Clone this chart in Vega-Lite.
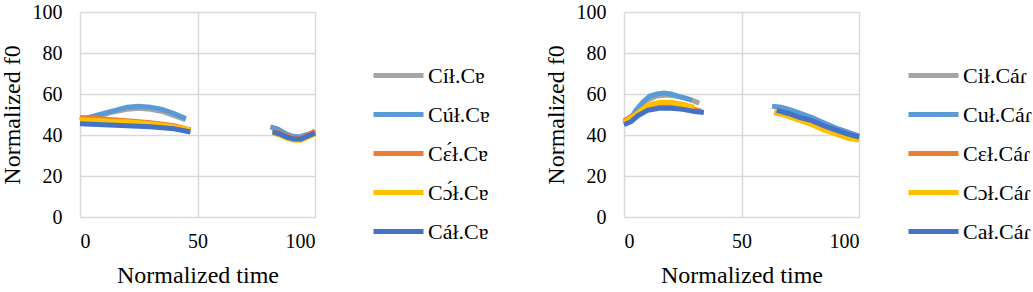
{
  "$schema": "https://vega.github.io/schema/vega-lite/v6.json",
  "padding": {"left": 0, "top": 2, "right": 0, "bottom": 0},
  "background": "white",
  "spacing": 54,
  "config": {
    "view": {"stroke": null},
    "font": "Liberation Serif",
    "axis": {
      "labelFont": "Liberation Serif", "labelFontSize": 20, "labelColor": "#000000",
      "titleFont": "Liberation Serif", "titleFontSize": 24, "titleFontWeight": "normal", "titleColor": "#000000",
      "domain": false, "ticks": false, "gridColor": "#d9d9d9", "gridWidth": 1.5
    },
    "legend": {
      "labelFont": "Liberation Serif", "labelFontSize": 22, "labelColor": "#000000", "labelLimit": 200,
      "symbolType": "stroke", "symbolSize": 2500, "symbolStrokeWidth": 5, "rowPadding": -13,
      "labelOffset": 2, "title": null, "orient": "none", "legendY": 36
    }
  },
  "datasets": {
    "left": [
      {"s": "Cíł.Cɐ", "g": 1, "t": 0, "v": 47}, {"s": "Cíł.Cɐ", "g": 1, "t": 5, "v": 48.5}, {"s": "Cíł.Cɐ", "g": 1, "t": 10, "v": 50}, {"s": "Cíł.Cɐ", "g": 1, "t": 15, "v": 51.5}, {"s": "Cíł.Cɐ", "g": 1, "t": 20, "v": 52.5}, {"s": "Cíł.Cɐ", "g": 1, "t": 25, "v": 53}, {"s": "Cíł.Cɐ", "g": 1, "t": 30, "v": 52.5}, {"s": "Cíł.Cɐ", "g": 1, "t": 35, "v": 51.5}, {"s": "Cíł.Cɐ", "g": 1, "t": 40, "v": 49.5}, {"s": "Cíł.Cɐ", "g": 1, "t": 45, "v": 47.5},
      {"s": "Cíł.Cɐ", "g": 2, "t": 82, "v": 43}, {"s": "Cíł.Cɐ", "g": 2, "t": 85, "v": 41.5}, {"s": "Cíł.Cɐ", "g": 2, "t": 88, "v": 40}, {"s": "Cíł.Cɐ", "g": 2, "t": 91, "v": 39}, {"s": "Cíł.Cɐ", "g": 2, "t": 94, "v": 39}, {"s": "Cíł.Cɐ", "g": 2, "t": 97, "v": 40}, {"s": "Cíł.Cɐ", "g": 2, "t": 100, "v": 41},
      {"s": "Cúł.Cɐ", "g": 1, "t": 0, "v": 47.5}, {"s": "Cúł.Cɐ", "g": 1, "t": 5, "v": 49}, {"s": "Cúł.Cɐ", "g": 1, "t": 10, "v": 50.5}, {"s": "Cúł.Cɐ", "g": 1, "t": 15, "v": 52}, {"s": "Cúł.Cɐ", "g": 1, "t": 20, "v": 53.5}, {"s": "Cúł.Cɐ", "g": 1, "t": 25, "v": 54}, {"s": "Cúł.Cɐ", "g": 1, "t": 30, "v": 53.5}, {"s": "Cúł.Cɐ", "g": 1, "t": 35, "v": 52.5}, {"s": "Cúł.Cɐ", "g": 1, "t": 40, "v": 50.5}, {"s": "Cúł.Cɐ", "g": 1, "t": 45, "v": 48},
      {"s": "Cúł.Cɐ", "g": 2, "t": 81, "v": 44}, {"s": "Cúł.Cɐ", "g": 2, "t": 84, "v": 43}, {"s": "Cúł.Cɐ", "g": 2, "t": 87, "v": 41}, {"s": "Cúł.Cɐ", "g": 2, "t": 90, "v": 39.5}, {"s": "Cúł.Cɐ", "g": 2, "t": 93, "v": 39}, {"s": "Cúł.Cɐ", "g": 2, "t": 96, "v": 40}, {"s": "Cúł.Cɐ", "g": 2, "t": 100, "v": 41},
      {"s": "Cɛ́ł.Cɐ", "g": 1, "t": 0, "v": 48.5}, {"s": "Cɛ́ł.Cɐ", "g": 1, "t": 10, "v": 47.8}, {"s": "Cɛ́ł.Cɐ", "g": 1, "t": 20, "v": 47}, {"s": "Cɛ́ł.Cɐ", "g": 1, "t": 30, "v": 46}, {"s": "Cɛ́ł.Cɐ", "g": 1, "t": 40, "v": 44.5}, {"s": "Cɛ́ł.Cɐ", "g": 1, "t": 47, "v": 42.5},
      {"s": "Cɛ́ł.Cɐ", "g": 2, "t": 82, "v": 42}, {"s": "Cɛ́ł.Cɐ", "g": 2, "t": 85, "v": 41}, {"s": "Cɛ́ł.Cɐ", "g": 2, "t": 88, "v": 39.5}, {"s": "Cɛ́ł.Cɐ", "g": 2, "t": 91, "v": 38.5}, {"s": "Cɛ́ł.Cɐ", "g": 2, "t": 94, "v": 38.5}, {"s": "Cɛ́ł.Cɐ", "g": 2, "t": 97, "v": 40}, {"s": "Cɛ́ł.Cɐ", "g": 2, "t": 100, "v": 42},
      {"s": "Cɔ́ł.Cɐ", "g": 1, "t": 0, "v": 47.5}, {"s": "Cɔ́ł.Cɐ", "g": 1, "t": 10, "v": 47}, {"s": "Cɔ́ł.Cɐ", "g": 1, "t": 20, "v": 46.5}, {"s": "Cɔ́ł.Cɐ", "g": 1, "t": 30, "v": 45.5}, {"s": "Cɔ́ł.Cɐ", "g": 1, "t": 40, "v": 44}, {"s": "Cɔ́ł.Cɐ", "g": 1, "t": 47, "v": 42.5},
      {"s": "Cɔ́ł.Cɐ", "g": 2, "t": 82, "v": 41}, {"s": "Cɔ́ł.Cɐ", "g": 2, "t": 85, "v": 40}, {"s": "Cɔ́ł.Cɐ", "g": 2, "t": 88, "v": 38.5}, {"s": "Cɔ́ł.Cɐ", "g": 2, "t": 91, "v": 37.5}, {"s": "Cɔ́ł.Cɐ", "g": 2, "t": 94, "v": 37.5}, {"s": "Cɔ́ł.Cɐ", "g": 2, "t": 97, "v": 39}, {"s": "Cɔ́ł.Cɐ", "g": 2, "t": 100, "v": 40.5},
      {"s": "Cáł.Cɐ", "g": 1, "t": 0, "v": 45.5}, {"s": "Cáł.Cɐ", "g": 1, "t": 10, "v": 45}, {"s": "Cáł.Cɐ", "g": 1, "t": 20, "v": 44.5}, {"s": "Cáł.Cɐ", "g": 1, "t": 30, "v": 44}, {"s": "Cáł.Cɐ", "g": 1, "t": 40, "v": 43}, {"s": "Cáł.Cɐ", "g": 1, "t": 47, "v": 41.5},
      {"s": "Cáł.Cɐ", "g": 2, "t": 82, "v": 41.5}, {"s": "Cáł.Cɐ", "g": 2, "t": 85, "v": 40.5}, {"s": "Cáł.Cɐ", "g": 2, "t": 88, "v": 39}, {"s": "Cáł.Cɐ", "g": 2, "t": 91, "v": 38}, {"s": "Cáł.Cɐ", "g": 2, "t": 94, "v": 38}, {"s": "Cáł.Cɐ", "g": 2, "t": 97, "v": 39.5}, {"s": "Cáł.Cɐ", "g": 2, "t": 100, "v": 41}
    ],
    "right": [
      {"s": "Cił.Cáɾ", "g": 1, "t": 0, "v": 46}, {"s": "Cił.Cáɾ", "g": 1, "t": 5, "v": 51}, {"s": "Cił.Cáɾ", "g": 1, "t": 10, "v": 57}, {"s": "Cił.Cáɾ", "g": 1, "t": 14, "v": 59}, {"s": "Cił.Cáɾ", "g": 1, "t": 18, "v": 59.5}, {"s": "Cił.Cáɾ", "g": 1, "t": 22, "v": 59}, {"s": "Cił.Cáɾ", "g": 1, "t": 26, "v": 58}, {"s": "Cił.Cáɾ", "g": 1, "t": 30, "v": 56.5}, {"s": "Cił.Cáɾ", "g": 1, "t": 32, "v": 55.5},
      {"s": "Cił.Cáɾ", "g": 2, "t": 65, "v": 53.5}, {"s": "Cił.Cáɾ", "g": 2, "t": 70, "v": 52.5}, {"s": "Cił.Cáɾ", "g": 2, "t": 75, "v": 50.5}, {"s": "Cił.Cáɾ", "g": 2, "t": 80, "v": 48}, {"s": "Cił.Cáɾ", "g": 2, "t": 85, "v": 45.5}, {"s": "Cił.Cáɾ", "g": 2, "t": 90, "v": 43}, {"s": "Cił.Cáɾ", "g": 2, "t": 95, "v": 41}, {"s": "Cił.Cáɾ", "g": 2, "t": 100, "v": 39.5},
      {"s": "Cuł.Cáɾ", "g": 1, "t": 0, "v": 46}, {"s": "Cuł.Cáɾ", "g": 1, "t": 3, "v": 48}, {"s": "Cuł.Cáɾ", "g": 1, "t": 5, "v": 52}, {"s": "Cuł.Cáɾ", "g": 1, "t": 8, "v": 56}, {"s": "Cuł.Cáɾ", "g": 1, "t": 11, "v": 59}, {"s": "Cuł.Cáɾ", "g": 1, "t": 14, "v": 60}, {"s": "Cuł.Cáɾ", "g": 1, "t": 17, "v": 60.5}, {"s": "Cuł.Cáɾ", "g": 1, "t": 20, "v": 60}, {"s": "Cuł.Cáɾ", "g": 1, "t": 23, "v": 59}, {"s": "Cuł.Cáɾ", "g": 1, "t": 26, "v": 58}, {"s": "Cuł.Cáɾ", "g": 1, "t": 29, "v": 57},
      {"s": "Cuł.Cáɾ", "g": 2, "t": 63, "v": 54}, {"s": "Cuł.Cáɾ", "g": 2, "t": 67, "v": 53.5}, {"s": "Cuł.Cáɾ", "g": 2, "t": 70, "v": 52.5}, {"s": "Cuł.Cáɾ", "g": 2, "t": 75, "v": 50.5}, {"s": "Cuł.Cáɾ", "g": 2, "t": 80, "v": 48.5}, {"s": "Cuł.Cáɾ", "g": 2, "t": 85, "v": 46}, {"s": "Cuł.Cáɾ", "g": 2, "t": 90, "v": 43.5}, {"s": "Cuł.Cáɾ", "g": 2, "t": 95, "v": 41.5}, {"s": "Cuł.Cáɾ", "g": 2, "t": 100, "v": 39.5},
      {"s": "Cɛł.Cáɾ", "g": 1, "t": 0, "v": 47}, {"s": "Cɛł.Cáɾ", "g": 1, "t": 5, "v": 50}, {"s": "Cɛł.Cáɾ", "g": 1, "t": 10, "v": 53.5}, {"s": "Cɛł.Cáɾ", "g": 1, "t": 15, "v": 54.5}, {"s": "Cɛł.Cáɾ", "g": 1, "t": 20, "v": 54.5}, {"s": "Cɛł.Cáɾ", "g": 1, "t": 25, "v": 53.5}, {"s": "Cɛł.Cáɾ", "g": 1, "t": 30, "v": 52.5}, {"s": "Cɛł.Cáɾ", "g": 1, "t": 33, "v": 51.5},
      {"s": "Cɛł.Cáɾ", "g": 2, "t": 64, "v": 51}, {"s": "Cɛł.Cáɾ", "g": 2, "t": 70, "v": 49.5}, {"s": "Cɛł.Cáɾ", "g": 2, "t": 75, "v": 47.5}, {"s": "Cɛł.Cáɾ", "g": 2, "t": 80, "v": 45.5}, {"s": "Cɛł.Cáɾ", "g": 2, "t": 85, "v": 43}, {"s": "Cɛł.Cáɾ", "g": 2, "t": 90, "v": 41}, {"s": "Cɛł.Cáɾ", "g": 2, "t": 95, "v": 39}, {"s": "Cɛł.Cáɾ", "g": 2, "t": 100, "v": 38},
      {"s": "Cɔł.Cáɾ", "g": 1, "t": 0, "v": 46}, {"s": "Cɔł.Cáɾ", "g": 1, "t": 5, "v": 50}, {"s": "Cɔł.Cáɾ", "g": 1, "t": 10, "v": 54.5}, {"s": "Cɔł.Cáɾ", "g": 1, "t": 15, "v": 56}, {"s": "Cɔł.Cáɾ", "g": 1, "t": 20, "v": 56}, {"s": "Cɔł.Cáɾ", "g": 1, "t": 25, "v": 55}, {"s": "Cɔł.Cáɾ", "g": 1, "t": 30, "v": 53.5},
      {"s": "Cɔł.Cáɾ", "g": 2, "t": 64, "v": 51.5}, {"s": "Cɔł.Cáɾ", "g": 2, "t": 70, "v": 49}, {"s": "Cɔł.Cáɾ", "g": 2, "t": 75, "v": 47}, {"s": "Cɔł.Cáɾ", "g": 2, "t": 80, "v": 45}, {"s": "Cɔł.Cáɾ", "g": 2, "t": 85, "v": 42.5}, {"s": "Cɔł.Cáɾ", "g": 2, "t": 90, "v": 40.5}, {"s": "Cɔł.Cáɾ", "g": 2, "t": 95, "v": 38.5}, {"s": "Cɔł.Cáɾ", "g": 2, "t": 100, "v": 37.5},
      {"s": "Cał.Cáɾ", "g": 1, "t": 0, "v": 45}, {"s": "Cał.Cáɾ", "g": 1, "t": 3, "v": 46.5}, {"s": "Cał.Cáɾ", "g": 1, "t": 6, "v": 49.5}, {"s": "Cał.Cáɾ", "g": 1, "t": 10, "v": 52}, {"s": "Cał.Cáɾ", "g": 1, "t": 15, "v": 53}, {"s": "Cał.Cáɾ", "g": 1, "t": 20, "v": 53}, {"s": "Cał.Cáɾ", "g": 1, "t": 25, "v": 52.5}, {"s": "Cał.Cáɾ", "g": 1, "t": 30, "v": 51.5}, {"s": "Cał.Cáɾ", "g": 1, "t": 34, "v": 51},
      {"s": "Cał.Cáɾ", "g": 2, "t": 65, "v": 52}, {"s": "Cał.Cáɾ", "g": 2, "t": 70, "v": 50.5}, {"s": "Cał.Cáɾ", "g": 2, "t": 75, "v": 48.5}, {"s": "Cał.Cáɾ", "g": 2, "t": 80, "v": 47}, {"s": "Cał.Cáɾ", "g": 2, "t": 85, "v": 44.5}, {"s": "Cał.Cáɾ", "g": 2, "t": 90, "v": 42.5}, {"s": "Cał.Cáɾ", "g": 2, "t": 95, "v": 40.5}, {"s": "Cał.Cáɾ", "g": 2, "t": 100, "v": 39}
    ]
  },
  "resolve": {"scale": {"color": "independent"}, "legend": {"color": "independent"}},
  "hconcat": [
    {
      "width": 235, "height": 205,
      "data": {"name": "left"},
      "mark": {"type": "line", "strokeWidth": 5, "strokeCap": "butt", "strokeJoin": "miter"},
      "encoding": {
        "x": {"field": "t", "type": "quantitative", "title": "Normalized time", "scale": {"domain": [0, 100], "nice": false},
              "axis": {"values": [0, 50, 100], "labelPadding": 14, "titlePadding": 12}},
        "y": {"field": "v", "type": "quantitative", "title": "Normalized f0", "scale": {"domain": [0, 100], "nice": false},
              "axis": {"values": [0, 20, 40, 60, 80, 100], "labelPadding": 18, "titlePadding": 8}},
        "color": {"field": "s", "type": "nominal",
                  "scale": {"domain": ["Cíł.Cɐ", "Cúł.Cɐ", "Cɛ́ł.Cɐ", "Cɔ́ł.Cɐ", "Cáł.Cɐ"], "range": ["#A5A5A5", "#5B9BD5", "#ED7D31", "#FFC000", "#4472C4"]},
                  "legend": {"legendX": 291}},
        "detail": {"field": "g", "type": "nominal"}
      }
    },
    {
      "width": 235, "height": 205,
      "data": {"name": "right"},
      "mark": {"type": "line", "strokeWidth": 5, "strokeCap": "butt", "strokeJoin": "miter"},
      "encoding": {
        "x": {"field": "t", "type": "quantitative", "title": "Normalized time", "scale": {"domain": [0, 100], "nice": false},
              "axis": {"values": [0, 50, 100], "labelPadding": 14, "titlePadding": 12}},
        "y": {"field": "v", "type": "quantitative", "title": "Normalized f0", "scale": {"domain": [0, 100], "nice": false},
              "axis": {"values": [0, 20, 40, 60, 80, 100], "labelPadding": 18, "titlePadding": 8}},
        "color": {"field": "s", "type": "nominal",
                  "scale": {"domain": ["Cił.Cáɾ", "Cuł.Cáɾ", "Cɛł.Cáɾ", "Cɔł.Cáɾ", "Cał.Cáɾ"], "range": ["#A5A5A5", "#5B9BD5", "#ED7D31", "#FFC000", "#4472C4"]},
                  "legend": {"legendX": 282}},
        "detail": {"field": "g", "type": "nominal"}
      }
    }
  ]
}
